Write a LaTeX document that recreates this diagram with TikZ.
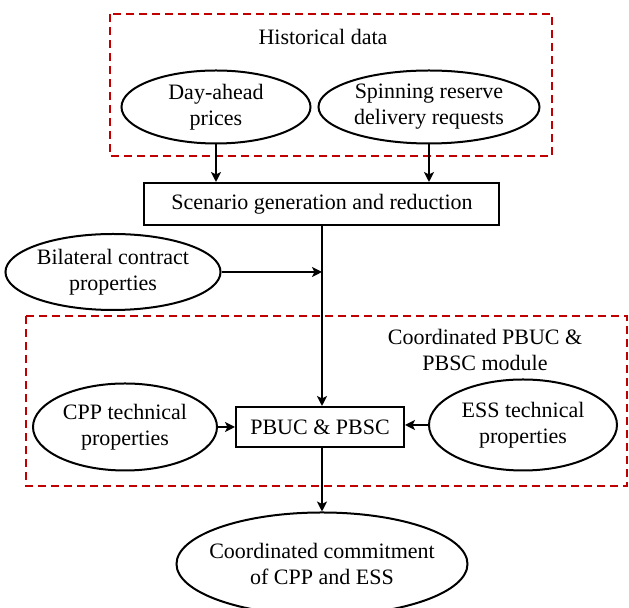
\documentclass[tikz,border=0pt]{standalone}
\usepackage{fontspec}
\setmainfont{Liberation Serif}
\usepackage{xcolor}
\usetikzlibrary{arrows.meta, shapes.geometric, positioning}
\definecolor{frameRed}{HTML}{C00000}

\begin{document}
\begin{tikzpicture}[x=0.5pt, y=-0.5pt,
    every node/.style={font=\fontsize{11}{13}\selectfont, align=center},
    dataoval/.style={draw, ellipse, line width=1pt, inner sep=0pt},
    procbox/.style={draw, rectangle, line width=1pt, inner sep=0pt},
    groupframe/.style={draw=frameRed, line width=1pt, dash pattern=on 4pt off 2.5pt},
    flow/.style={line width=1pt, -{Stealth[length=5pt, width=5pt, inset=1.2pt]}}]

    % =================================================================
    % LAYER 0: THE CANVAS
    % =================================================================
    \useasboundingbox (0,0) rectangle (629,608);

    % =================================================================
    % LAYER 1: HISTORICAL DATA GROUP
    % =================================================================
    \draw[groupframe] (110,14) rectangle (552,156);
    \node (histlabel) at (323,37) {Historical data};

    \node[dataoval, minimum width=94.5pt, minimum height=36.5pt]
        (prices) at (216,107) {Day-ahead\\prices};
    \node[dataoval, minimum width=110.5pt, minimum height=36.5pt]
        (requests) at (429,107) {Spinning reserve\\delivery requests};

    % =================================================================
    % LAYER 2: SCENARIOS AND CONTRACTS
    % =================================================================
    \node[procbox, minimum width=177.5pt, minimum height=21pt]
        (scenarios) at (322,204) {Scenario generation and reduction};
    \node[dataoval, minimum width=105pt, minimum height=38pt]
        (contract) at (113,272) {Bilateral contract\\properties};

    % =================================================================
    % LAYER 3: THE COORDINATED MODULE
    % =================================================================
    \draw[groupframe] (26,316) rectangle (627,486);
    \node (modlabel) at (485,350) {Coordinated PBUC \&\\PBSC module};

    \node[dataoval, minimum width=92pt, minimum height=43.5pt]
        (cpp) at (125,427) {CPP technical\\properties};
    \node[procbox, minimum width=84pt, minimum height=20pt]
        (pbuc) at (320,427) {PBUC \& PBSC};
    \node[dataoval, minimum width=94pt, minimum height=45.5pt]
        (ess) at (523,425) {ESS technical\\properties};

    % =================================================================
    % LAYER 4: THE RESULT
    % =================================================================
    \node[dataoval, minimum width=145.5pt, minimum height=51.5pt, inner xsep=-8pt]
        (commit) at (322,564) {Coordinated commitment\\of CPP and ESS};

    % =================================================================
    % LAYER 5: THE FLOWS
    % =================================================================
    \draw[flow] (prices.south) -- (prices.south |- scenarios.north);
    \draw[flow] (requests.south) -- (requests.south |- scenarios.north);
    \draw[flow] (scenarios.south) -- (scenarios.south |- pbuc.north);

    \coordinate (join) at (scenarios.south |- contract.east);
    \draw[flow] (contract.east) -- (join);

    \draw[flow] (cpp.east) -- (pbuc.west);
    \draw[flow] (ess.west) -- (ess.west -| pbuc.east);
    \draw[flow] (scenarios.south |- pbuc.south) -- (commit.north);

\end{tikzpicture}
\end{document}
